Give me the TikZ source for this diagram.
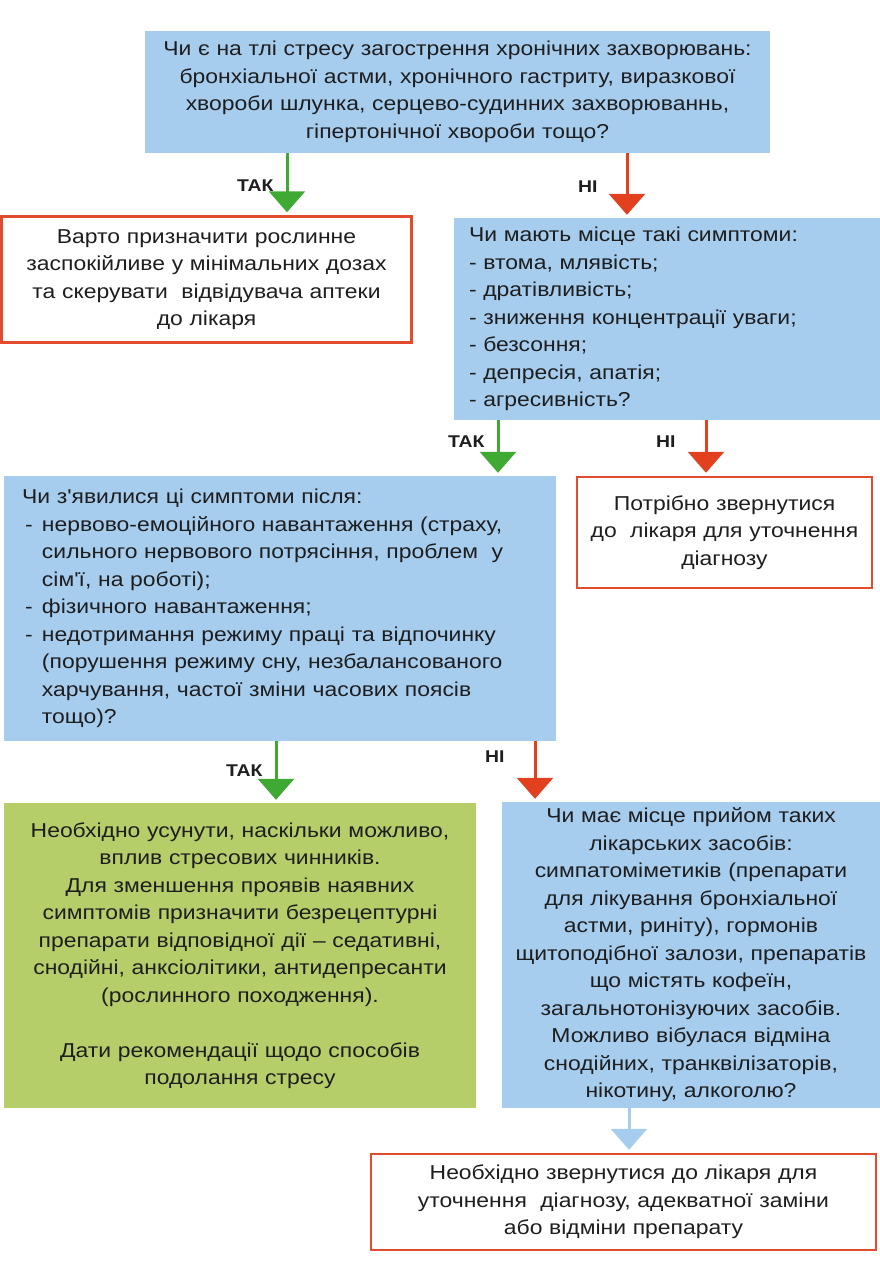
\documentclass[tikz,border=0pt]{standalone}
\usepackage{fontspec}
\setmainfont{Liberation Sans}[FakeStretch=1.14,Ligatures=TeXOff]
\usetikzlibrary{arrows.meta}
\definecolor{boxblue}{RGB}{166,204,238}
\definecolor{boxgreen}{RGB}{181,206,106}
\definecolor{outred}{RGB}{226,76,46}
\definecolor{argreen}{RGB}{62,170,52}
\definecolor{arred}{RGB}{226,64,30}
\definecolor{txt}{RGB}{30,30,30}
\tikzset{
  boxtext/.style={font=\fontsize{20.1}{27.5}\selectfont, text=txt, inner sep=0pt},
  bluebox/.style={boxtext, fill=boxblue},
  greenbox/.style={boxtext, fill=boxgreen},
  redbox/.style={boxtext, draw=outred, line width=2.5pt, fill=white},
  lab/.style={font=\fontsize{17}{18}\selectfont\bfseries, text=txt, inner sep=0pt, anchor=east},
  conn/.style={line width=3pt, shorten >=3pt, -{Triangle[width=36pt,length=21pt]}},
  garr/.style={conn, draw=argreen},
  rarr/.style={conn, draw=arred},
  barr/.style={conn, draw=boxblue},
}
\begin{document}
\begin{tikzpicture}[x=1pt,y=-1pt]
\useasboundingbox (0,0) rectangle (880,1280);

% boxes
\node[bluebox, minimum width=625pt, minimum height=122pt, text width=615pt, align=center] (q1) at (457.5,92)
{Чи є на тлі стресу загострення хронічних захворювань:\\
бронхіальної астми, хронічного гастриту, виразкової\\
хвороби шлунка, серцево-судинних захворюваннь,\\
гіпертонічної хвороби тощо?};

\node[redbox, minimum width=410pt, minimum height=126pt, text width=390pt, align=center] (r1) at (206.5,279.5)
{Варто призначити рослинне\\
заспокійливе у мінімальних дозах\\
та скерувати\ \ відвідувача аптеки\\
до лікаря};

\node[bluebox, minimum width=426pt, minimum height=202pt, text width=396pt, align=left] (q2) at (667,319)
{Чи мають місце такі симптоми:\\
- втома, млявість;\\
- дратівливість;\\
- зниження концентрації уваги;\\
- безсоння;\\
- депресія, апатія;\\
- агресивність?};

\node[bluebox, minimum width=552pt, minimum height=265pt, text width=516pt, align=left] (q3) at (280,608.5)
{Чи з'явилися ці симптоми після:\\
\makebox[20pt][l]{\hspace{3pt}-}нервово-емоційного навантаження (страху,\\
\hspace*{20pt}сильного нервового потрясіння, проблем\ \ у\\
\hspace*{20pt}сім'ї, на роботі);\\
\makebox[20pt][l]{\hspace{3pt}-}фізичного навантаження;\\
\makebox[20pt][l]{\hspace{3pt}-}недотримання режиму праці та відпочинку\\
\hspace*{20pt}(порушення режиму сну, незбалансованого\\
\hspace*{20pt}харчування, частої зміни часових поясів\\
\hspace*{20pt}тощо)?};

\node[redbox, minimum width=295pt, minimum height=111pt, text width=285pt, align=center] (r2) at (724.5,532.5)
{Потрібно звернутися\\
до\ \ лікаря для уточнення\\
діагнозу};

\node[greenbox, minimum width=472pt, minimum height=305pt, text width=465pt, align=center] (g1) at (240,955.5)
{Необхідно усунути, наскільки можливо,\\
вплив стресових чинників.\\
Для зменшення проявів наявних\\
симптомів призначити безрецептурні\\
препарати відповідної дії – седативні,\\
снодійні, анксіолітики, антидепресанти\\
(рослинного походження).\\[27.5pt]
Дати рекомендації щодо способів\\
подолання стресу};

\node[bluebox, minimum width=378pt, minimum height=306pt, text width=374pt, align=center] (q4) at (691,955)
{Чи має місце прийом таких\\
лікарських засобів:\\
симпатоміметиків (препарати\\
для лікування бронхіальної\\
астми, риніту), гормонів\\
щитоподібної залози, препаратів\\
що містять кофеїн,\\
загальнотонізуючих засобів.\\
Можливо вібулася відміна\\
снодійних, транквілізаторів,\\
нікотину, алкоголю?};

\node[redbox, minimum width=505pt, minimum height=96pt, text width=490pt, align=center] (r3) at (623.5,1202)
{Необхідно звернутися до лікаря для\\
уточнення\ \ діагнозу, адекватної заміни\\
або відміни препарату};

% arrow columns
\coordinate (a1) at (287,0);
\coordinate (a2) at (627,0);
\coordinate (a3) at (498,0);
\coordinate (a4) at (706,0);
\coordinate (a5) at (276,0);
\coordinate (a6) at (535,0);
\coordinate (a7) at (629,0);

\draw[garr] (q1.south -| a1) -- node[lab, pos=0.52, xshift=-12pt] {ТАК} (r1.north -| a1);
\draw[rarr] (q1.south -| a2) -- node[lab, pos=0.52, xshift=-28pt] {НІ} (q2.north -| a2);
\draw[garr] (q2.south -| a3) -- node[lab, pos=0.38, xshift=-12pt] {ТАК} (q3.north -| a3);
\draw[rarr] (q2.south -| a4) -- node[lab, pos=0.38, xshift=-29pt] {НІ} (r2.north -| a4);
\draw[garr] (q3.south -| a5) -- node[lab, pos=0.47, xshift=-12pt] {ТАК} (g1.north -| a5);
\draw[rarr] (q3.south -| a6) -- node[lab, pos=0.26, xshift=-29pt] {НІ} (q4.north -| a6);
\draw[barr] (q4.south -| a7) -- (r3.north -| a7);
\end{tikzpicture}
\end{document}
